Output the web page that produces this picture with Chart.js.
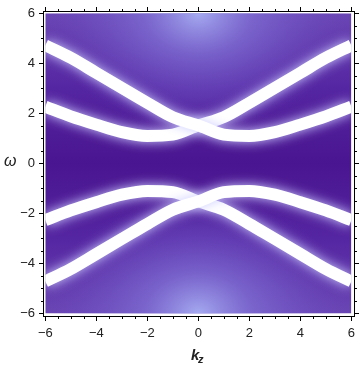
<!DOCTYPE html>
<html>
<head>
<meta charset="utf-8">
<script src="https://cdn.jsdelivr.net/npm/chart.js@4.4.1/dist/chart.umd.min.js"></script>
<style>
  html, body { margin: 0; padding: 0; background: #fff; }
</style>
</head>
<body>
<canvas id="chart-bands" width="360" height="365"></canvas>
<script>
/* ── data ── */
const kz       = [-6, -5, -4, -3, -2, -1, 0, 1, 2, 3, 4, 5, 6];
const upperA   = [4.72, 4.22, 3.62, 3.02, 2.42, 1.85, 1.52, 1.15, 1.10, 1.25, 1.55, 1.88, 2.27];
const upperB   = [2.27, 1.88, 1.55, 1.25, 1.10, 1.15, 1.52, 1.85, 2.42, 3.02, 3.62, 4.22, 4.72];
const lowerA   = [-4.72, -4.22, -3.62, -3.02, -2.42, -1.85, -1.52, -1.15, -1.10, -1.25, -1.55, -1.88, -2.27];
const lowerB   = [-2.27, -1.88, -1.55, -1.25, -1.10, -1.15, -1.52, -1.85, -2.42, -3.02, -3.62, -4.22, -4.72];
const xTicks   = [-6, -4, -2, 0, 2, 4, 6];
const yTicks   = [-6, -4, -2, 0, 2, 4, 6];
const xLabels  = ['\u22126', '\u22124', '\u22122', '0', '2', '4', '6'];
const yLabels  = ['\u22126', '\u22124', '\u22122', '0', '2', '4', '6'];
const minorStep = 0.5;
const plotRange = [-6, 6];   // density region

/* ── colours ── */
const C = {
  core : '#ffffff',
  shade: 'rgba(205,205,255,1)',
  font : '#222222',
  frame: '#000000',
};

function pts(ys) { return kz.map((k, i) => ({ x: k, y: ys[i] })); }

function bandSet(ys) {
  return {
    data: pts(ys),
    borderColor: C.core, borderWidth: 12,
    pointRadius: 0, cubicInterpolationMode: 'monotone', fill: false,
  };
}

/* background of the density plot + soft glow round the bands */
const densityBg = {
  id: 'densityBg',
  beforeDatasetsDraw(chart) {
    const { ctx, scales: { x, y } } = chart;
    const x0 = x.getPixelForValue(plotRange[0]), x1 = x.getPixelForValue(plotRange[1]);
    const y0 = y.getPixelForValue(plotRange[1]), y1 = y.getPixelForValue(plotRange[0]);
    ctx.save();
    ctx.beginPath();
    ctx.rect(x0, y0, x1 - x0, y1 - y0);
    ctx.clip();

    const g = ctx.createLinearGradient(0, y0, 0, y1);
    g.addColorStop(0.00, '#6a46b4');
    g.addColorStop(0.25, '#5526a2');
    g.addColorStop(0.50, '#4a1590');
    g.addColorStop(0.75, '#5526a2');
    g.addColorStop(1.00, '#6a46b4');
    ctx.fillStyle = g;
    ctx.fillRect(x0, y0, x1 - x0, y1 - y0);

    const cx = (x0 + x1) / 2;
    [y0, y1].forEach(yc => {
      ctx.save();
      ctx.translate(cx, yc);
      ctx.scale(1, 0.8);
      const r = ctx.createRadialGradient(0, 0, 0, 0, 0, 150);
      r.addColorStop(0.0, 'rgba(165,170,240,1)');
      r.addColorStop(0.35, 'rgba(135,125,222,0.6)');
      r.addColorStop(1.0, 'rgba(110,80,200,0)');
      ctx.fillStyle = r;
      ctx.beginPath();
      ctx.arc(0, 0, 150, 0, Math.PI * 2);
      ctx.fill();
      ctx.restore();
    });
    /* clip stays on for the bands */
  },
  afterDatasetsDraw(chart) { chart.ctx.restore(); },
  beforeDatasetDraw(chart) {
    const ctx = chart.ctx;
    ctx.save();
    ctx.shadowColor = C.shade;
    ctx.shadowBlur = 12;
  },
  afterDatasetDraw(chart) { chart.ctx.restore(); },
};

/* frame, ticks, axis titles */
const frame = {
  id: 'frame',
  afterDraw(chart) {
    const { ctx, chartArea: a, scales: { x, y } } = chart;
    ctx.save();
    ctx.strokeStyle = C.frame;
    ctx.lineWidth = 1;
    const L = Math.round(a.left) + 0.5, R = Math.round(a.right) + 0.5;
    const T = Math.round(a.top) + 0.5, B = Math.round(a.bottom) + 0.5;
    ctx.strokeRect(L, T, R - L, B - T);

    ctx.beginPath();
    for (let v = plotRange[0]; v <= plotRange[1] + 1e-9; v += minorStep) {
      const major = Math.abs(v % 2) < 1e-9;
      const len = major ? 4.5 : 2.5;
      const px = Math.round(x.getPixelForValue(v)) + 0.5;
      const py = Math.round(y.getPixelForValue(v)) + 0.5;
      ctx.moveTo(px, B); ctx.lineTo(px, B + len);
      ctx.moveTo(px, T); ctx.lineTo(px, T - len);
      ctx.moveTo(L, py); ctx.lineTo(L - len, py);
      ctx.moveTo(R, py); ctx.lineTo(R + len, py);
    }
    ctx.stroke();

    ctx.fillStyle = C.font;
    ctx.textBaseline = 'alphabetic';
    ctx.textAlign = 'left';
    ctx.font = 'italic 16px "Liberation Sans"';
    ctx.fillText('\u03c9', 4, 166);
    ctx.font = 'italic bold 15px "Liberation Sans"';
    ctx.fillText('k', 191, 360);
    ctx.font = 'italic bold 11px "Liberation Sans"';
    ctx.fillText('z', 198, 363);
    ctx.restore();
  },
};

function axisOpts(min, max, tickVals, labels, fit, pad) {
  return {
    type: 'linear', min, max,
    afterBuildTicks: s => { s.ticks = tickVals.map(v => ({ value: v })); },
    afterFit: fit,
    border: { display: false },
    grid: { display: true, drawOnChartArea: false, drawTicks: true, tickLength: 5, tickColor: 'rgba(0,0,0,0)' },
    ticks: {
      color: C.font,
      font: { family: '"Liberation Sans"', size: 13 },
      autoSkip: false, maxRotation: 0, padding: pad,
      callback: v => labels[tickVals.indexOf(v)],
    },
  };
}

new Chart(document.getElementById('chart-bands'), {
  type: 'line',
  data: {
    datasets: [bandSet(upperA), bandSet(upperB), bandSet(lowerA), bandSet(lowerB)],
  },
  options: {
    responsive: false,
    devicePixelRatio: 1,
    animation: false,
    layout: { padding: { left: 0, right: 6, top: 5, bottom: 0 } },
    plugins: { legend: { display: false }, tooltip: { enabled: false } },
    scales: {
      x: axisOpts(-6.09, 6.09, xTicks, xLabels, s => { s.height = 49; }, 5),
      y: axisOpts(-6.1, 6.1, yTicks, yLabels, s => { s.width = 43; }, 3),
    },
  },
  plugins: [densityBg, frame],
});
</script>
</body>
</html>
